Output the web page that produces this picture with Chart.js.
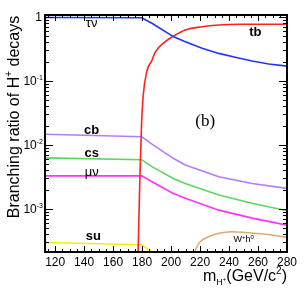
<!DOCTYPE html>
<html>
<head>
<meta charset="utf-8">
<script src="https://cdn.jsdelivr.net/npm/chart.js@4.4.0/dist/chart.umd.min.js"></script>
<style>
  html, body { margin:0; padding:0; background:#fff; }
  canvas { display:block; }
</style>
</head>
<body>
<canvas id="chart" width="304" height="291"></canvas>
<script>
// values (m_H+ in GeV/c^2, branching ratio)
const tauNuMass = [113, 179.7, 186.8, 201.8, 209.8, 221.4, 232.9, 244.3, 255.9, 267.4, 280];
const tauNuBR   = [0.985, 0.975, 0.80, 0.49, 0.41, 0.324, 0.27, 0.235, 0.205, 0.184, 0.171];

const tbMass = [177.1, 178.6, 179.7, 180.8, 183.2, 186.8, 189, 195.8, 201.5, 209.8, 221.4, 232.9, 246.7, 262, 280];
const tbBR   = [0.00015, 0.0038, 0.023, 0.060, 0.14, 0.21, 0.28, 0.41, 0.50, 0.626, 0.706, 0.75, 0.77, 0.77, 0.77];

const cbMass = [113, 179.7, 186.8, 201.5, 209.8, 232.9, 255.9, 280];
const cbBR   = [0.0147, 0.0135, 0.0103, 0.0062, 0.00487, 0.0032, 0.0025, 0.0021];

const csMass = [113, 179.7, 186.8, 201.5, 209.8, 232.9, 255.9, 280];
const csBR   = [0.0063, 0.0059, 0.0046, 0.0030, 0.0025, 0.00166, 0.00123, 0.00094];

const muNuMass = [113, 179.7, 186.8, 201.5, 209.8, 232.9, 255.9, 280];
const muNuBR   = [0.0033, 0.0033, 0.00267, 0.00175, 0.00147, 0.00096, 0.00072, 0.00056];

const suMass = [113, 179.7, 194];
const suBR   = [0.00030, 0.000277, 0.000167];

const whMass = [214.6, 219.1, 223.6, 232.9, 242, 251.2, 265, 280];
const whBR   = [0.00017, 0.00029, 0.000348, 0.000417, 0.000442, 0.00043, 0.000403, 0.000361];

const xTickLabels = [120, 140, 160, 180, 200, 220, 240, 260, 280];
const yDecades = [1, 0.1, 0.01, 0.001];
const yDecadeExp = ["", "-1", "-2", "-3"];

// curve labels in data coordinates
const curveLabels = [
  {text:"\u03c4\u03bd", x:145.2, y:0.80,    bold:false},
  {text:"cb",           x:145.2, y:0.0172,  bold:true},
  {text:"cs",           x:145.2, y:0.0074,  bold:true},
  {text:"\u03bc\u03bd", x:145.2, y:0.00374, bold:false},
  {text:"su",           x:146.3, y:0.000369,bold:true},
  {text:"tb",           x:258.1, y:0.583,   bold:true},
];

const series = [
  {name:"tau nu", mass:tauNuMass, br:tauNuBR, color:"#2233ff", smooth:false},
  {name:"tb",     mass:tbMass,    br:tbBR,    color:"#ff2222", smooth:true},
  {name:"cb",     mass:cbMass,    br:cbBR,    color:"#b57bff", smooth:false},
  {name:"cs",     mass:csMass,    br:csBR,    color:"#5cd65c", smooth:false},
  {name:"mu nu",  mass:muNuMass,  br:muNuBR,  color:"#ff33ff", smooth:false},
  {name:"su",     mass:suMass,    br:suBR,    color:"#ffee00", smooth:false},
  {name:"W h",    mass:whMass,    br:whBR,    color:"#e0aa77", smooth:true},
];

const SANS = "'Liberation Sans', Arial, sans-serif";

function rich(ctx, parts, x, y, align){
  let w = 0;
  parts.forEach(p => { ctx.font = `${p.weight||"normal"} ${p.size}px ${p.family||SANS}`; p.w = ctx.measureText(p.t).width; w += p.w; });
  let cx = align === "right" ? x - w : (align === "center" ? x - w/2 : x);
  parts.forEach(p => {
    ctx.font = `${p.weight||"normal"} ${p.size}px ${p.family||SANS}`;
    ctx.fillText(p.t, cx, y + (p.dy||0));
    cx += p.w;
  });
}

const decorations = {
  id:"decorations",
  afterDatasetsDraw(chart){
    const {ctx, chartArea:a, scales:{x, y}} = chart;
    ctx.save();
    ctx.strokeStyle = "#000";
    ctx.fillStyle = "#000";
    ctx.lineWidth = 1;
    const seg = (x1,y1,x2,y2) => { ctx.beginPath(); ctx.moveTo(x1,y1); ctx.lineTo(x2,y2); ctx.stroke(); };

    // x ticks, inward, bottom and top
    for (let v = 115; v <= 280; v += 5){
      const px = Math.round(x.getPixelForValue(v)) + 0.5;
      const len = v % 20 === 0 ? 6 : 3;
      seg(px, a.bottom, px, a.bottom - len);
      seg(px, a.top, px, a.top + len);
    }
    // y ticks, log decades
    for (let e = -4; e <= 0; e++){
      for (let m = 1; m <= 9; m++){
        const v = m * Math.pow(10, e);
        if (v < y.min || v > y.max) continue;
        const py = Math.round(y.getPixelForValue(v)) + 0.5;
        const len = m === 1 ? 8 : 4;
        seg(a.left, py, a.left + len, py);
        seg(a.right, py, a.right - len, py);
      }
    }
    ctx.lineWidth = 2;
    ctx.strokeRect(a.left, a.top, a.right - a.left, a.bottom - a.top);

    // x tick labels
    ctx.textBaseline = "alphabetic";
    ctx.textAlign = "center";
    ctx.font = `12px ${SANS}`;
    xTickLabels.forEach(v => ctx.fillText(String(v), x.getPixelForValue(v), 266));

    // y tick labels
    ctx.textAlign = "left";
    yDecades.forEach((v, i) => {
      const py = y.getPixelForValue(v);
      if (yDecadeExp[i] === "") rich(ctx, [{t:"1", size:12}], 42, py + 4.3, "right");
      else rich(ctx, [{t:"10", size:12}, {t:yDecadeExp[i], size:7, dy:-5}], 43, py + 4.3, "right");
    });

    // axis titles
    rich(ctx, [{t:"m", size:16}, {t:"H", size:9, dy:4}, {t:"+", size:6, dy:0},
               {t:"(GeV/c", size:16}, {t:"2", size:10, dy:-7}, {t:")", size:16}], 287, 281, "right");
    ctx.save();
    ctx.translate(19, 117);
    ctx.rotate(-Math.PI/2);
    rich(ctx, [{t:"Branching ratio of H", size:16}, {t:"+", size:10, dy:-7}, {t:" decays", size:16}], 0, 0, "center");
    ctx.restore();

    // curve labels
    ctx.textBaseline = "middle";
    curveLabels.forEach(l => {
      rich(ctx, [{t:l.text, size:13, weight:l.bold ? "bold" : "normal"}], x.getPixelForValue(l.x), y.getPixelForValue(l.y), "center");
    });
    rich(ctx, [{t:"W", size:9}, {t:"+", size:6, dy:-3}, {t:"h", size:9}, {t:"0", size:6, dy:-3}],
         x.getPixelForValue(250.1), y.getPixelForValue(0.000328), "center");
    rich(ctx, [{t:"(b)", size:17, family:"'Liberation Serif', 'Times New Roman', serif"}],
         x.getPixelForValue(223.6), y.getPixelForValue(0.0231), "center");
    ctx.restore();
  }
};

new Chart(document.getElementById("chart"), {
  type:"line",
  data:{
    datasets: series.map(s => ({
      label:s.name,
      data:s.mass.map((m, i) => ({x:m, y:s.br[i]})),
      borderColor:s.color,
      borderWidth:1.6,
      pointRadius:0,
      fill:false,
      tension:0,
      cubicInterpolationMode: s.smooth ? "monotone" : "default",
      clip:0
    }))
  },
  options:{
    responsive:false,
    animation:false,
    events:[],
    layout:{padding:{left:45, right:17, top:15, bottom:39}},
    plugins:{legend:{display:false}, tooltip:{enabled:false}},
    scales:{
      x:{type:"linear", min:113, max:280, display:false},
      y:{type:"logarithmic", min:2.13e-4, max:1.075, display:false}
    }
  },
  plugins:[decorations]
});
</script>
</body>
</html>
